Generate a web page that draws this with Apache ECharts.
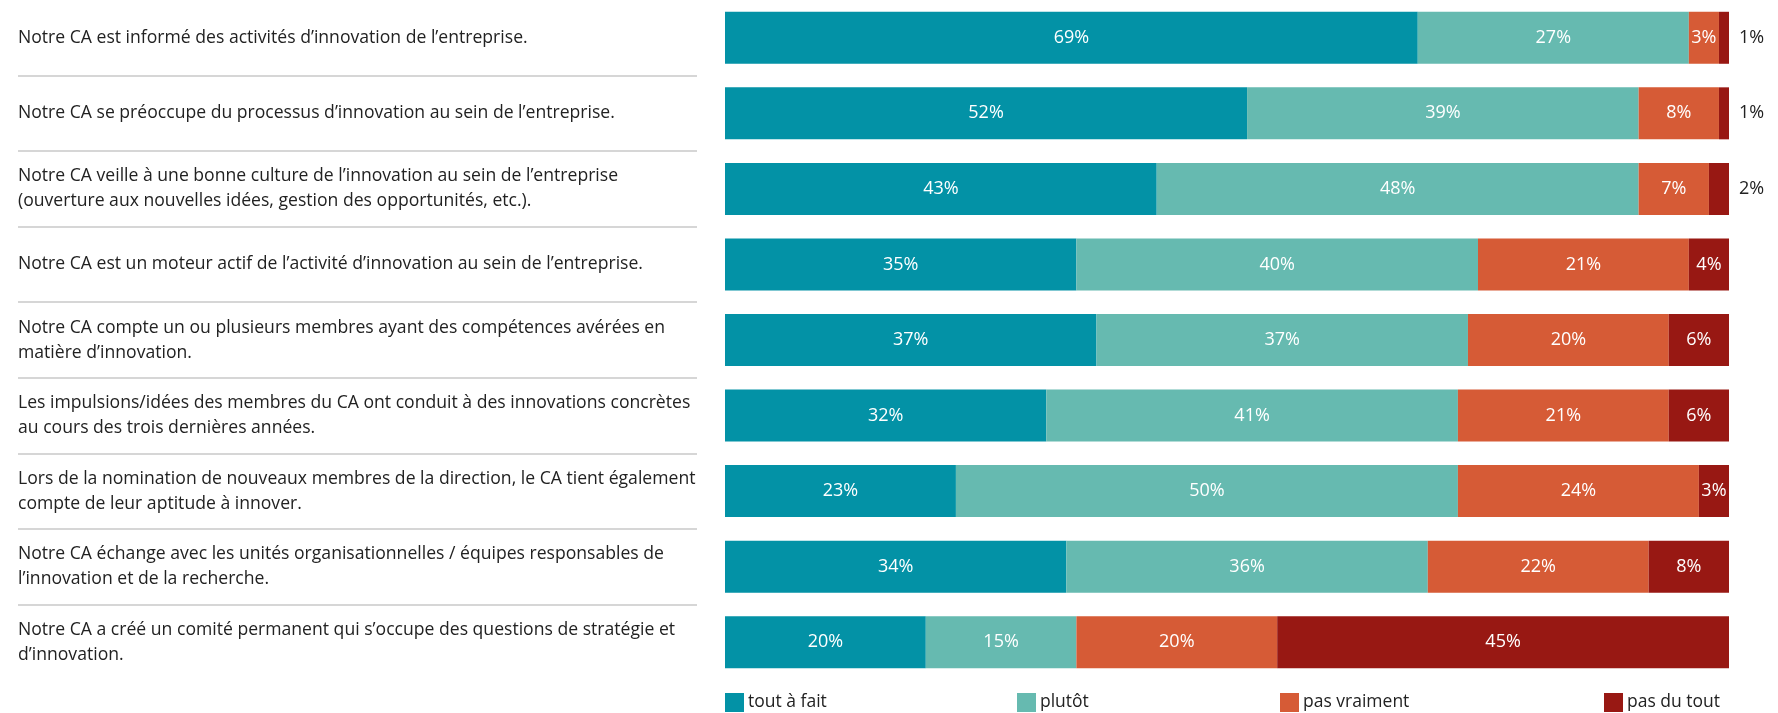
<!DOCTYPE html>
<html>
<head>
<meta charset="utf-8">
<script src="https://cdn.jsdelivr.net/npm/echarts@6/dist/echarts.min.js"></script>
<style>
html,body{margin:0;padding:0;background:#fff;}
#chart{width:1778px;height:713px;}
</style>
</head>
<body>
<div id="chart"></div>
<script>
// questions (axe des catégories)
var categories = [
  'Notre CA est informé des activités d’innovation de l’entreprise.',
  'Notre CA se préoccupe du processus d’innovation au sein de l’entreprise.',
  'Notre CA veille à une bonne culture de l’innovation au sein de l’entreprise\n(ouverture aux nouvelles idées, gestion des opportunités, etc.).',
  'Notre CA est un moteur actif de l’activité d’innovation au sein de l’entreprise.',
  'Notre CA compte un ou plusieurs membres ayant des compétences avérées en\nmatière d’innovation.',
  'Les impulsions/idées des membres du CA ont conduit à des innovations concrètes\nau cours des trois dernières années.',
  'Lors de la nomination de nouveaux membres de la direction, le CA tient également\ncompte de leur aptitude à innover.',
  'Notre CA échange avec les unités organisationnelles / équipes responsables de\nl’innovation et de la recherche.',
  'Notre CA a créé un comité permanent qui s’occupe des questions de stratégie et\nd’innovation.'
];
// valeurs en %
var toutAFait   = [69, 52, 43, 35, 37, 32, 23, 34, 20];
var plutot      = [27, 39, 48, 40, 37, 41, 50, 36, 15];
var pasVraiment = [3, 8, 7, 21, 20, 21, 24, 22, 20];
var pasDuTout   = [1, 1, 2, 4, 6, 6, 3, 8, 45];
var seriesNames = ['tout à fait', 'plutôt', 'pas vraiment', 'pas du tout'];

var colors = ['#0392a6', '#66bab0', '#d65b36', '#981813'];
var legendLeft = [725, 1017, 1280, 1604];
var font = '"Open Sans", "Noto Sans", sans-serif';

var myChart = echarts.init(document.getElementById('chart'));

var allData = [toutAFait, plutot, pasVraiment, pasDuTout];
var series = [];
for (var i = 0; i < allData.length; i++) {
  var data = allData[i].map(function (v) {
    // les très petites valeurs sont écrites à droite de la barre
    if (v <= 2) {
      return {value: v, label: {position: 'right', distance: 10, color: '#222'}};
    }
    return v;
  });
  series.push({
    name: seriesNames[i],
    type: 'bar',
    stack: 'total',
    xAxisIndex: 1,
    yAxisIndex: 1,
    barWidth: 52,
    itemStyle: {color: colors[i]},
    label: {
      show: true,
      position: 'inside',
      color: '#fff',
      fontFamily: font,
      fontSize: 18,
      formatter: '{c}%'
    },
    data: data
  });
}

var legends = [];
for (var j = 0; j < seriesNames.length; j++) {
  legends.push({
    data: [seriesNames[j]],
    left: legendLeft[j],
    top: 693,
    padding: 0,
    icon: 'rect',
    itemWidth: 19,
    itemHeight: 19,
    selectedMode: false,
    textStyle: {fontFamily: font, fontSize: 17.5, color: '#222', padding: [0, 0, 0, -1]}
  });
}

var option = {
  animation: false,
  legend: legends,
  grid: [
    {left: 18, width: 679, top: 0, height: 680},
    {left: 725, right: 49, top: 0, height: 680}
  ],
  xAxis: [
    {gridIndex: 0, type: 'value', show: false, min: 0, max: 1},
    {gridIndex: 1, type: 'value', show: false, min: 0, max: 100}
  ],
  yAxis: [
    {
      gridIndex: 0,
      type: 'category',
      inverse: true,
      data: categories,
      axisLine: {show: false},
      axisTick: {show: false},
      axisLabel: {
        inside: true,
        margin: 0,
        fontFamily: font,
        fontSize: 17.6,
        lineHeight: 25,
        color: '#222'
      },
      splitLine: {
        show: true,
        showMinLine: false,
        showMaxLine: false,
        lineStyle: {color: '#c8c8c8', width: 1.5}
      }
    },
    {
      gridIndex: 1,
      type: 'category',
      inverse: true,
      data: categories,
      show: false
    }
  ],
  series: series
};
myChart.setOption(option);
</script>
</body>
</html>
